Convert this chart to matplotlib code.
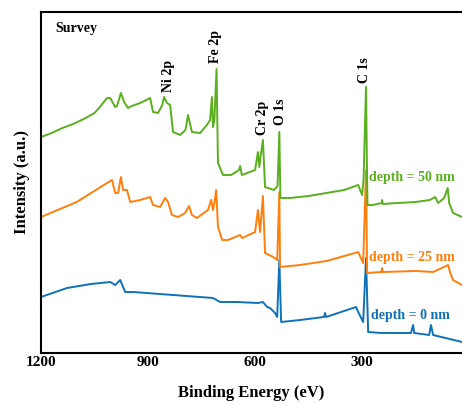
import matplotlib
matplotlib.use("Agg")
import matplotlib.pyplot as plt

plt.rcParams['font.family'] = ['Liberation Serif', 'DejaVu Serif']
plt.rcParams['font.weight'] = 'bold'

# Binding energy (eV) and intensity (a.u.)
e_50 = [1200, 1170, 1140, 1110, 1080, 1050, 1035, 1015, 1006, 992, 987, 976, 967, 956,
        945, 922, 905, 894, 886, 872, 860, 855, 847, 838, 830, 810, 795, 788, 777, 754,
        735, 726, 721, 718, 714, 708, 704, 690, 667, 645, 642, 637, 600, 592, 588, 584,
        578, 572, 547, 537, 532, 529, 502, 450, 400, 350, 311, 300, 296, 289, 287, 285,
        270, 245, 244, 242, 200, 150, 110, 95, 87, 70, 60, 56, 45, 20]
i_50 = [216, 220, 225, 229, 234, 240, 246, 255, 255, 246, 247, 260, 251, 245,
        247, 250, 253, 255, 241, 240, 248, 256, 250, 248, 221, 218, 223, 238, 221, 220,
        228, 233, 256, 226, 233, 284, 190, 178, 178, 183, 187, 178, 183, 201, 186, 198,
        213, 166, 163, 167, 221, 155, 155, 157, 160, 163, 168, 158, 173, 266, 203, 148,
        148, 150, 153, 149, 150, 151, 153, 156, 150, 155, 165, 150, 140, 136]

e_25 = [1200, 1100, 1015, 1001, 992, 984, 976, 970, 959, 950, 922, 894, 886, 866, 852,
        844, 833, 816, 796, 785, 777, 763, 732, 723, 718, 714, 709, 704, 692, 676, 642,
        636, 600, 592, 586, 578, 572, 549, 538, 532, 530, 474, 400, 320, 311, 297, 289,
        286, 246, 244, 242, 150, 101, 59, 53, 45, 20]
i_25 = [136, 151, 170, 173, 160, 160, 176, 163, 163, 151, 153, 156, 148, 146, 155,
        151, 138, 136, 140, 147, 138, 135, 143, 153, 143, 150, 163, 126, 113, 113, 118,
        115, 121, 143, 121, 157, 100, 96, 93, 161, 86, 88, 92, 100, 101, 90, 183,
        80, 81, 85, 81, 82, 81, 88, 80, 73, 68]

e_0 = [1200, 1127, 1060, 1006, 992, 978, 964, 942, 830, 718, 698, 651, 592, 578, 566, 558,
       544, 538, 532, 527, 474, 407, 404, 401, 317, 311, 297, 289, 283, 247, 163, 157,
       154, 112, 107, 101, 20]
i_0 = [56, 65, 69, 71, 68, 73, 61, 61, 58, 55, 51, 51, 50, 51, 46, 45,
       40, 36, 93, 31, 33, 36, 40, 36, 46, 41, 31, 95, 21, 20, 20, 28,
       20, 18, 28, 18, 11]

c_50, c_25, c_0 = '#5aaf1e', '#ff7f0e', '#0f72b8'

fig = plt.figure(figsize=(4.62, 4.05), dpi=100)
ax = fig.add_axes([41/462, 1-353/405, 421/462, 341/405])

ax.plot(e_0, i_0, color=c_0, lw=1.4)
ax.plot(e_25, i_25, color=c_25, lw=1.4)
ax.plot(e_50, i_50, color=c_50, lw=1.4)

ax.set_xlim(1200, 20)
ax.set_ylim(0, 341)
ax.set_xticks([1200, 900, 600, 300])
ax.set_yticks([])
ax.tick_params(axis='x', length=0, pad=2, labelsize=11)
for lab in ax.get_xticklabels():
    lab.set_fontweight('bold')
for s in ['left', 'top', 'bottom']:
    ax.spines[s].set_linewidth(1.5)
ax.spines['right'].set_visible(False)

ax.set_xlabel('Binding Energy (eV)', fontsize=12, fontweight='bold', labelpad=12)
ax.set_ylabel('Intensity (a.u.)', fontsize=12, fontweight='bold', labelpad=8)

ax.text(0.033, 0.971, 'Survey', transform=ax.transAxes, ha='left', va='top',
        fontsize=10, fontweight='bold')

peaks = [('Ni 2p', 844, 261), ('Fe 2p', 712, 290), ('Cr 2p', 580, 218),
         ('O 1s', 530, 228), ('C 1s', 292, 270)]
for t, x, y in peaks:
    ax.text(x, y, t, rotation=90, ha='center', va='bottom', fontsize=10, fontweight='bold')

ax.text(280, 175, 'depth = 50 nm', color=c_50, ha='left', va='center', fontsize=10, fontweight='bold')
ax.text(280, 95, 'depth = 25 nm', color=c_25, ha='left', va='center', fontsize=10, fontweight='bold')
ax.text(275, 38, 'depth = 0 nm', color=c_0, ha='left', va='center', fontsize=10, fontweight='bold')

fig.savefig('out.png', dpi=100)
